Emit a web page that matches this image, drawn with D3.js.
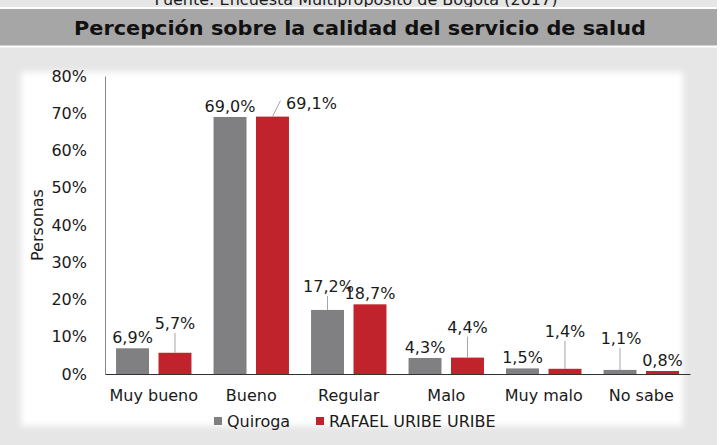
<!DOCTYPE html>
<html lang="es">
<head>
    <meta charset="UTF-8">
    <title>Percepción sobre la calidad del servicio de salud</title>
    <script src="https://d3js.org/d3.v7.min.js"></script>
    <style>
        html, body { margin: 0; padding: 0; background: #fff; }
        svg { display: block; font-family: "DejaVu Sans", Verdana, sans-serif; }
    </style>
</head>
<body>
    <div id="chart"></div>
    <script>
        // data
        const categories = ['Muy bueno', 'Bueno', 'Regular', 'Malo', 'Muy malo', 'No sabe'];
        const seriesNames = ['Quiroga', 'RAFAEL URIBE URIBE'];
        const quiroga = [6.9, 69.0, 17.2, 4.3, 1.5, 1.1];
        const rafaelUribe = [5.7, 69.1, 18.7, 4.4, 1.4, 0.8];
        const yTicks = [0, 10, 20, 30, 40, 50, 60, 70, 80];

        const colors = { 'Quiroga': '#808083', 'RAFAEL URIBE URIBE': '#c0232b' };

        // labels that were dragged away from the bar in the original (dx, dy in px)
        const labelNudge = {
            'RAFAEL URIBE URIBE|Muy bueno': [0, -19],
            'RAFAEL URIBE URIBE|Bueno': [39, -3],
            'Quiroga|Regular': [1, -13],
            'RAFAEL URIBE URIBE|Malo': [0, -20],
            'RAFAEL URIBE URIBE|Muy malo': [0, -27],
            'Quiroga|No sabe': [1, -21]
        };

        const W = 723, H = 445;
        const margin = { left: 105, right: 33, top: 76, bottom: 71 };

        const svg = d3.select('#chart').append('svg')
            .attr('width', W).attr('height', H);

        const defs = svg.append('defs');
        defs.append('filter').attr('id', 'soft')
            .attr('x', '-5%').attr('y', '-5%').attr('width', '110%').attr('height', '110%')
            .append('feGaussianBlur').attr('stdDeviation', 3);

        // backgrounds
        svg.append('rect').attr('x', 0).attr('y', 0).attr('width', 717).attr('height', 7).attr('fill', '#e6e6e6');
        svg.append('text')
            .attr('x', 356).attr('y', 5)
            .attr('text-anchor', 'middle')
            .attr('font-size', 16).attr('fill', '#1a1a1a')
            .text('Fuente: Encuesta Multipropósito de Bogotá (2017)');
        svg.append('rect').attr('x', 0).attr('y', 7).attr('width', 717).attr('height', 2).attr('fill', '#fff');
        svg.append('rect').attr('x', 0).attr('y', 9).attr('width', 717).attr('height', 36.5).attr('fill', '#a6a6a6');
        svg.append('text')
            .attr('x', 360).attr('y', 35)
            .attr('text-anchor', 'middle')
            .attr('font-size', 20).attr('font-weight', 'bold').attr('fill', '#111')
            .attr('textLength', 572).attr('lengthAdjust', 'spacingAndGlyphs')
            .text('Percepción sobre la calidad del servicio de salud');
        svg.append('rect').attr('x', 0).attr('y', 47.5).attr('width', 717).attr('height', H - 47.5).attr('fill', '#e6e6e6');
        svg.append('rect').attr('x', 21).attr('y', 72).attr('width', 662).attr('height', 354)
            .attr('fill', '#fff').attr('filter', 'url(#soft)');

        // scales
        const x0 = d3.scaleBand().domain(categories).range([margin.left, W - margin.right]);
        const x1 = d3.scaleBand().domain(seriesNames).range([0, x0.bandwidth()])
            .paddingInner(0.224).paddingOuter(0.26);
        const y = d3.scaleLinear().domain([0, 80]).range([H - margin.bottom, margin.top]);

        const rows = [];
        seriesNames.forEach((s, si) => {
            const vals = si === 0 ? quiroga : rafaelUribe;
            categories.forEach((c, ci) => rows.push({ series: s, category: c, value: vals[ci] }));
        });

        // bars
        svg.append('g').selectAll('rect')
            .data(rows).enter().append('rect')
            .attr('x', d => x0(d.category) + x1(d.series))
            .attr('y', d => y(d.value))
            .attr('width', x1.bandwidth())
            .attr('height', d => y(0) - y(d.value))
            .attr('fill', d => colors[d.series]);

        // axes
        const yAxis = svg.append('g')
            .attr('transform', `translate(${margin.left},0)`)
            .call(d3.axisLeft(y).tickValues(yTicks).tickSize(0).tickPadding(18).tickFormat(d => d + '%'));
        yAxis.select('.domain').attr('stroke', '#868686');
        yAxis.selectAll('text').attr('font-size', 16).attr('fill', '#1a1a1a')
            .attr('font-family', '"DejaVu Sans", Verdana, sans-serif');

        const xAxis = svg.append('g')
            .attr('transform', `translate(0,${y(0)})`)
            .call(d3.axisBottom(x0).tickSize(0).tickPadding(16));
        xAxis.select('.domain').attr('stroke', '#333');
        xAxis.selectAll('text').attr('font-size', 16).attr('fill', '#1a1a1a')
            .attr('font-family', '"DejaVu Sans", Verdana, sans-serif');

        svg.append('text')
            .attr('transform', 'translate(43,225) rotate(-90)')
            .attr('text-anchor', 'middle')
            .attr('font-size', 16).attr('fill', '#1a1a1a')
            .text('Personas');

        // data labels with leader lines
        const fmt = v => v.toFixed(1).replace('.', ',') + '%';
        const labels = svg.append('g');
        rows.forEach(d => {
            const cx = x0(d.category) + x1(d.series) + x1.bandwidth() / 2;
            const top = y(d.value);
            const nudge = labelNudge[d.series + '|' + d.category] || [0, 0];
            const lx = cx + nudge[0];
            const ly = top - 5 + nudge[1];
            if (nudge[1] < -8) {
                labels.append('line')
                    .attr('x1', cx).attr('y1', top)
                    .attr('x2', cx).attr('y2', ly + 4)
                    .attr('stroke', '#a6a6a6').attr('stroke-width', 1);
            } else if (nudge[0] > 10) {
                labels.append('line')
                    .attr('x1', cx).attr('y1', top)
                    .attr('x2', lx - 31).attr('y2', ly - 8)
                    .attr('stroke', '#a6a6a6').attr('stroke-width', 1);
            }
            labels.append('text')
                .attr('x', lx).attr('y', ly)
                .attr('text-anchor', 'middle')
                .attr('font-size', 16).attr('fill', '#1a1a1a')
                .text(fmt(d.value));
        });

        // legend
        const legend = svg.append('g').attr('transform', 'translate(214,417)');
        const legendX = [0, 102];
        seriesNames.forEach((s, i) => {
            const g = legend.append('g').attr('transform', `translate(${legendX[i]},0)`);
            g.append('rect').attr('width', 8).attr('height', 8).attr('fill', colors[s]);
            g.append('text').attr('x', 13).attr('y', 9.5)
                .attr('font-size', 16).attr('fill', '#1a1a1a').text(s);
        });
    </script>
</body>
</html>
